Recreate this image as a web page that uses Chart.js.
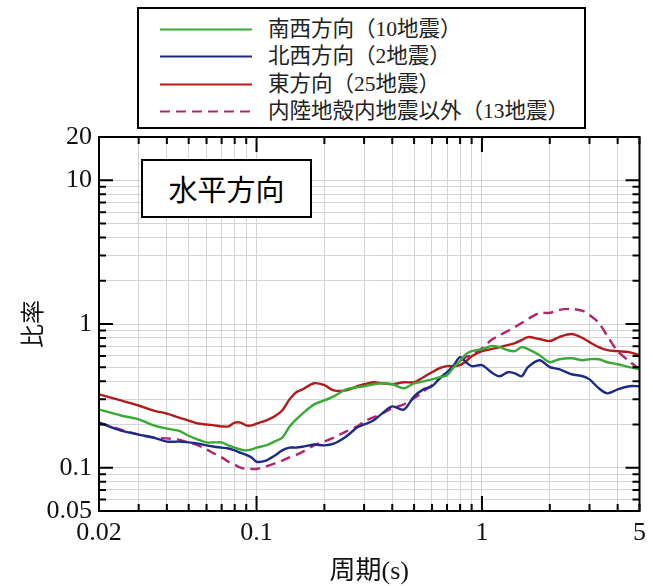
<!DOCTYPE html>
<html>
<head>
<meta charset="utf-8">
<script src="https://cdn.jsdelivr.net/npm/chart.js@4/dist/chart.umd.min.js"></script>
<style>
  html, body { margin: 0; padding: 0; background: #fff; }
  #wrap { position: relative; width: 653px; height: 586px; }
  #legend { position: absolute; left: 137px; top: 7px; width: 445px; height: 118px; border: 2px solid #000; background: #fff;
            font-family: 'Liberation Serif', 'Noto Sans CJK JP', serif; font-size: 21.5px; color: #222; }
  .row { position: absolute; left: 0; height: 27px; width: 100%; }
  .row svg { position: absolute; left: 21px; top: 0; }
  .row span { position: absolute; left: 129px; top: 0; line-height: 27px; white-space: nowrap; }
  #label { position: absolute; left: 141px; top: 159px; width: 167px; height: 55px; border: 2px solid #000; background: #fff;
           font-family: 'Noto Sans CJK JP', sans-serif; font-size: 29px; line-height: 55px; text-align: center; color: #000; }
</style>
</head>
<body>
<div id="wrap">
  <canvas id="c" width="653" height="586"></canvas>
  <div id="legend"></div>
  <div id="label">水平方向</div>
</div>
<script>
// ---- data ----
const periods = [0.02, 0.025, 0.03, 0.035, 0.04, 0.045, 0.05, 0.055, 0.06, 0.065, 0.07, 0.075, 0.08, 0.085, 0.09, 0.095,
  0.1, 0.11, 0.12, 0.13, 0.14, 0.15, 0.16, 0.18, 0.2, 0.22, 0.25, 0.28, 0.3, 0.33, 0.36, 0.4, 0.45, 0.5, 0.55, 0.6,
  0.65, 0.7, 0.75, 0.8, 0.85, 0.9, 1.0, 1.1, 1.2, 1.3, 1.4, 1.5, 1.6, 1.8, 2.0, 2.2, 2.5, 2.8, 3.0, 3.3, 3.6, 4.0, 4.5, 5.0];

const ratioSouthwest = [0.254, 0.231, 0.217, 0.197, 0.187, 0.181, 0.167, 0.157, 0.150, 0.150, 0.150, 0.143, 0.138, 0.134, 0.132, 0.134,
  0.138, 0.143, 0.152, 0.162, 0.193, 0.217, 0.238, 0.276, 0.294, 0.314, 0.351, 0.363, 0.369, 0.381, 0.387, 0.381, 0.357, 0.387, 0.399, 0.412,
  0.426, 0.440, 0.501, 0.551, 0.617, 0.647, 0.669, 0.702, 0.691, 0.658, 0.647, 0.691, 0.669, 0.607, 0.542, 0.569, 0.578, 0.560, 0.569, 0.569,
  0.542, 0.525, 0.501, 0.485];

const ratioNorthwest = [0.206, 0.181, 0.170, 0.162, 0.152, 0.152, 0.150, 0.147, 0.143, 0.140, 0.138, 0.136, 0.132, 0.127, 0.123, 0.118,
  0.110, 0.112, 0.121, 0.132, 0.138, 0.138, 0.140, 0.145, 0.143, 0.147, 0.165, 0.191, 0.200, 0.213, 0.238, 0.267, 0.254, 0.314, 0.351, 0.369,
  0.419, 0.462, 0.517, 0.588, 0.542, 0.509, 0.517, 0.462, 0.433, 0.462, 0.454, 0.433, 0.501, 0.560, 0.501, 0.485, 0.447, 0.433, 0.412, 0.357,
  0.329, 0.351, 0.369, 0.369];

const ratioEast = [0.324, 0.294, 0.271, 0.250, 0.238, 0.224, 0.213, 0.203, 0.200, 0.197, 0.194, 0.194, 0.206, 0.206, 0.197, 0.197,
  0.203, 0.213, 0.227, 0.250, 0.299, 0.335, 0.351, 0.387, 0.375, 0.345, 0.345, 0.369, 0.381, 0.393, 0.387, 0.381, 0.393, 0.393, 0.426, 0.462,
  0.493, 0.509, 0.509, 0.517, 0.551, 0.597, 0.647, 0.669, 0.691, 0.713, 0.736, 0.773, 0.811, 0.786, 0.761, 0.811, 0.851, 0.798, 0.748, 0.691,
  0.658, 0.647, 0.637, 0.607];

const ratioOther = [0.206, 0.184, 0.170, 0.162, 0.160, 0.157, 0.150, 0.143, 0.134, 0.125, 0.118, 0.110, 0.105, 0.100, 0.098, 0.098,
  0.098, 0.102, 0.107, 0.112, 0.118, 0.123, 0.129, 0.143, 0.152, 0.162, 0.179, 0.194, 0.210, 0.224, 0.238, 0.259, 0.276, 0.304, 0.340, 0.375,
  0.419, 0.462, 0.509, 0.551, 0.588, 0.607, 0.679, 0.773, 0.838, 0.893, 0.953, 1.016, 1.084, 1.194, 1.194, 1.253, 1.273, 1.233, 1.156, 1.016,
  0.824, 0.647, 0.551, 0.485];

const seriesNames = ['南西方向（10地震）', '北西方向（2地震）', '東方向（25地震）', '内陸地殻内地震以外（13地震）'];

const xTickLabels = [0.02, 0.1, 1, 5];
const yTickLabels = [0.05, 0.1, 1, 10, 20];
const xGridValues = [0.02, 0.03, 0.04, 0.05, 0.06, 0.07, 0.08, 0.09, 0.1, 0.2, 0.3, 0.4, 0.5, 0.6, 0.7, 0.8, 0.9, 1, 2, 3, 4, 5];
const yGridValues = [0.05, 0.06, 0.07, 0.08, 0.09, 0.1, 0.2, 0.3, 0.4, 0.5, 0.6, 0.7, 0.8, 0.9, 1, 2, 3, 4, 5, 6, 7, 8, 9, 10, 20];
const xMajor = [0.1, 1];
const yMajor = [0.1, 1, 10];

// ---- styles ----
const colors = ['#3aa935', '#1c2c86', '#b01c1c', '#b3246f'];
const dashes = [[], [], [], [10, 6]];
const seriesValues = [ratioSouthwest, ratioNorthwest, ratioEast, ratioOther];

// legend (HTML)
const legend = document.getElementById('legend');
seriesNames.forEach((name, i) => {
  const row = document.createElement('div');
  row.className = 'row';
  row.style.top = (7 + i * 27.3) + 'px';
  const dash = dashes[i].length ? `stroke-dasharray="${dashes[i].join(' ')}"` : '';
  row.innerHTML = `<svg width="94" height="27"><line x1="0" y1="13.5" x2="92" y2="13.5" stroke="${colors[i]}" stroke-width="2.2" ${dash}/></svg><span>${name}</span>`;
  legend.appendChild(row);
});

const serif = "'Liberation Serif', 'Noto Sans CJK JP', serif";
Chart.defaults.font.family = serif;
Chart.defaults.color = '#111';

const framePlugin = {
  id: 'frame',
  afterDatasetsDraw(chart) {
    const { ctx, chartArea: { left, right, top, bottom }, scales: { x, y } } = chart;
    ctx.save();
    ctx.strokeStyle = '#000';
    ctx.lineWidth = 2;
    ctx.beginPath();
    xGridValues.forEach(v => {
      const px = x.getPixelForValue(v);
      const len = xMajor.includes(v) ? 15 : 7;
      ctx.moveTo(px, bottom); ctx.lineTo(px, bottom - len);
      ctx.moveTo(px, top); ctx.lineTo(px, top + len);
    });
    yGridValues.forEach(v => {
      const py = y.getPixelForValue(v);
      const len = yMajor.includes(v) ? 14 : 7;
      ctx.moveTo(left, py); ctx.lineTo(left + len, py);
      ctx.moveTo(right, py); ctx.lineTo(right - len, py);
    });
    ctx.stroke();
    ctx.strokeRect(left, top, right - left, bottom - top);
    ctx.restore();
  }
};

new Chart(document.getElementById('c'), {
  type: 'line',
  data: {
    datasets: seriesNames.map((name, i) => ({
      label: name,
      data: periods.map((p, k) => ({ x: p, y: seriesValues[i][k] })),
      borderColor: colors[i],
      borderWidth: 2.4,
      borderDash: dashes[i],
      pointRadius: 0,
      tension: 0.3,
      fill: false
    }))
  },
  options: {
    responsive: false,
    animation: false,
    layout: { padding: { left: 8, top: 137, right: 10, bottom: 0 } },
    plugins: { legend: { display: false }, tooltip: { enabled: false } },
    scales: {
      x: {
        type: 'logarithmic',
        min: 0.02, max: 5,
        afterBuildTicks: s => { s.ticks = xGridValues.map(v => ({ value: v })); },
        afterFit: s => { s.height = 75; },
        ticks: {
          autoSkip: false, maxRotation: 0, padding: 7,
          font: { size: 26 }, color: '#111',
          callback: v => xTickLabels.includes(v) ? String(v) : ''
        },
        grid: { color: '#d4d4d4', lineWidth: 1, drawTicks: false },
        border: { display: false },
        title: { display: true, text: '周期(s)', font: { size: 26, lineHeight: 1.1 }, padding: { top: 0, bottom: 0 }, color: '#111' }
      },
      y: {
        type: 'logarithmic',
        min: 0.05, max: 20,
        afterBuildTicks: s => { s.ticks = yGridValues.map(v => ({ value: v })); },
        afterFit: s => { s.width = 91; },
        ticks: {
          autoSkip: false, padding: 7,
          font: { size: 26 }, color: '#111',
          callback: v => yTickLabels.includes(v) ? String(v) : ''
        },
        grid: { color: '#d4d4d4', lineWidth: 1, drawTicks: false },
        border: { display: false },
        title: { display: true, text: '比率', font: { size: 24, lineHeight: 1.2 }, padding: { top: 12, bottom: 0 }, color: '#111' }
      }
    }
  },
  plugins: [framePlugin]
});
</script>
</body>
</html>
